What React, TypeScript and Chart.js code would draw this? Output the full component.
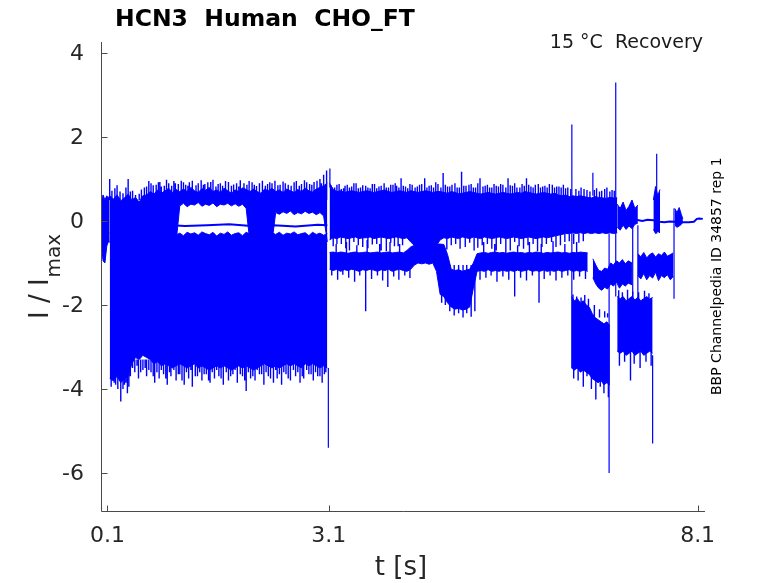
import React, { useEffect, useRef } from "react";
import { Chart, registerables } from "chart.js";

Chart.register(...registerables);

// ---------- text ----------
const TITLE = "HCN3  Human  CHO_FT";
const CONDITION = "15 °C  Recovery";
const SOURCE = "BBP Channelpedia ID 34857 rep 1";
const X_LABEL = "t [s]";
const Y_LABEL_MAIN = "I / I";
const Y_LABEL_SUB = "max";

// ---------- axes ----------
const X_MIN = 0.012;
const X_MAX = 8.2;
const Y_MIN = -6.93;
const Y_MAX = 4.262;
const xTicks = [0.1, 3.1, 8.1];
const xTickLabels = ["0.1", "3.1", "8.1"];
const yTicks = [-6, -4, -2, 0, 2, 4];
const yTickLabels = ["-6", "-4", "-2", "0", "2", "4"];

// ---------- trace: start segment ----------
const preT = [0.015, 0.04, 0.065, 0.09, 0.11, 0.13];
const preHi = [0.45, 0.62, 0.5, 0.6, 0.55, 0.6];
const preLo = [-0.55, -0.95, -1.0, -0.6, -0.5, -0.5];

// ---------- region 1 envelopes (sampled every 0.05 s from 0.13 s) ----------
const r1Start = 0.13;
const r1Step = 0.05;
const r1UpperHi = [
  0.6, 0.52, 0.62, 0.48, 0.55, 0.64, 0.5, 0.56, 0.45, 0.6,
  0.62, 0.7, 0.64, 0.74, 0.66, 0.72, 0.78, 0.68, 0.75, 0.7,
  0.76, 0.7, 0.8, 0.72, 0.68, 0.77, 0.73, 0.8, 0.7, 0.74,
  0.68, 0.78, 0.72, 0.66, 0.74, 0.7, 0.79, 0.75, 0.7, 0.76,
  0.7, 0.66, 0.76, 0.72, 0.78, 0.7, 0.74, 0.68, 0.76, 0.72,
  0.68, 0.75, 0.7, 0.78, 0.72, 0.69, 0.76, 0.8, 0.84, 0.9,
];
const r1UpperLo = [
  -0.5, -0.5, -0.5, -0.5, -0.5, -0.5, -0.5, -0.5, -0.5, -0.5,
  -0.5, -0.5, -0.5, -0.5, -0.5, -0.5, -0.5, -0.5, -0.5, 0.36,
  0.42, 0.34, 0.4, 0.38, 0.44, 0.35, 0.4, 0.37, 0.43, 0.34,
  0.4, 0.38, 0.42, 0.36, 0.41, 0.35, 0.4, 0.3, -0.5, -0.5,
  -0.5, -0.5, -0.5, -0.5, -0.5, 0.2, 0.16, 0.22, 0.18, 0.24,
  0.15, 0.2, 0.17, 0.23, 0.18, 0.21, 0.15, 0.2, 0.12, -0.5,
];
const r1LowerHi = [
  -0.28, -0.33, -0.26, -0.31, -0.36, -0.27, -0.32, -0.29, -0.35, -0.26,
  -0.3, -0.34, -0.27, -0.32, -0.28, -0.36, -0.3, -0.26, -0.33, -0.29,
  -0.35, -0.27, -0.31, -0.28, -0.34, -0.26, -0.3, -0.33, -0.27, -0.36,
  -0.29, -0.32, -0.26, -0.34, -0.3, -0.28, -0.35, -0.27, -0.31, -0.29,
  -0.33, -0.26, -0.3, -0.35, -0.28, -0.32, -0.27, -0.34, -0.29, -0.31,
  -0.26, -0.33, -0.3, -0.28, -0.35, -0.27, -0.32, -0.29, -0.34, -0.3,
];
const r1LowerLo = [
  -3.75, -3.8, -3.7, -3.85, -3.75, -3.7, -3.4, -3.25, -3.3, -3.2,
  -3.25, -3.3, -3.4, -3.35, -3.45, -3.4, -3.45, -3.5, -3.45, -3.4,
  -3.45, -3.5, -3.45, -3.4, -3.5, -3.45, -3.5, -3.55, -3.5, -3.45,
  -3.5, -3.45, -3.5, -3.55, -3.5, -3.45, -3.5, -3.45, -3.5, -3.55,
  -3.5, -3.45, -3.4, -3.45, -3.5, -3.45, -3.5, -3.45, -3.4, -3.45,
  -3.4, -3.45, -3.5, -3.4, -3.45, -3.4, -3.45, -3.5, -3.45, -3.5,
];
const r1LevelT = [0.25, 0.55, 0.85, 1.15, 1.45, 1.75, 2.05, 2.35, 2.65, 2.95, 3.08];
const r1LevelV = [-0.1, -0.13, -0.09, -0.12, -0.1, -0.08, -0.12, -0.1, -0.13, -0.09, -0.1];

// ---------- region 2 envelopes (sampled every 0.05 s from 3.11 s) ----------
const r2Start = 3.11;
const r2Step = 0.05;
const r2UpperHi = [
  0.9, 0.75, 0.7, 0.72, 0.68, 0.7, 0.72, 0.7, 0.68, 0.7,
  0.72, 0.7, 0.68, 0.7, 0.72, 0.74, 0.7, 0.68, 0.7, 0.72,
  0.7, 0.68, 0.72, 0.7, 0.68, 0.7, 0.72, 0.7, 0.68, 0.7,
  0.7, 0.68, 0.66, 0.7, 0.68, 0.65, 0.66, 0.68, 0.7, 0.68,
  0.66, 0.64, 0.66, 0.68, 0.66, 0.64, 0.66, 0.68, 0.66, 0.64,
  0.66, 0.68, 0.66, 0.7, 0.68, 0.66, 0.64, 0.66, 0.68, 0.66,
  0.64, 0.66, 0.62, 0.6, 0.62, 0.58, 0.6, 0.58, 0.6, 0.58,
  0.56, 0.55, 0.58, 0.56, 0.55, 0.54, 0.56, 0.55, 0.55,
];
const r2UpperLo = [
  -0.45, -0.4, -0.42, -0.38, -0.4, -0.42, -0.4, -0.38, -0.42, -0.4,
  -0.4, -0.38, -0.42, -0.4, -0.38, -0.4, -0.42, -0.4, -0.38, -0.4,
  -0.42, -0.4, -0.5, -0.58, -0.6, -0.62, -0.6, -0.62, -0.6, -0.58,
  -0.45, -0.4, -0.42, -0.38, -0.4, -0.42, -0.38, -0.4, -0.42, -0.38,
  -0.4, -0.42, -0.38, -0.4, -0.42, -0.4, -0.38, -0.4, -0.42, -0.4,
  -0.38, -0.4, -0.42, -0.4, -0.38, -0.4, -0.42, -0.4, -0.38, -0.4,
  -0.38, -0.36, -0.34, -0.32, -0.3, -0.3, -0.28, -0.3, -0.28, -0.3,
  -0.28, -0.3, -0.28, -0.3, -0.28, -0.3, -0.28, -0.3, -0.28,
];
const r2MidHi = [
  -0.75, -0.74, -0.76, -0.74, -0.75, -0.77, -0.75, -0.74, -0.76, -0.75,
  -0.74, -0.76, -0.75, -0.74, -0.76, -0.75, -0.74, -0.76, -0.75, -0.74,
  -0.76, -0.7, -0.62, -0.58, -0.56, -0.55, -0.56, -0.55, -0.56, -0.55,
  -0.55, -0.56, -0.8, -1.15, -1.18, -1.16, -1.2, -1.17, -1.15, -1.0,
  -0.78, -0.76, -0.75, -0.77, -0.75, -0.74, -0.76, -0.75, -0.77, -0.75,
  -0.74, -0.76, -0.75, -0.77, -0.75, -0.76, -0.74, -0.75, -0.77, -0.75,
  -0.76, -0.75, -0.74, -0.76, -0.75, -0.77, -0.75, -0.76, -0.74, -0.75,
  -0.76,
];
const r2MidLo = [
  -1.15, -1.18, -1.15, -1.2, -1.16, -1.18, -1.15, -1.17, -1.2, -1.16,
  -1.18, -1.15, -1.17, -1.2, -1.16, -1.18, -1.15, -1.2, -1.17, -1.15,
  -1.18, -1.2, -1.15, -1.05, -1.0, -1.02, -1.0, -1.03, -1.0, -1.2,
  -1.75, -1.8, -1.95, -2.05, -2.1, -2.08, -2.12, -2.1, -2.05, -1.6,
  -1.2, -1.18, -1.2, -1.16, -1.2, -1.18, -1.2, -1.17, -1.2, -1.18,
  -1.2, -1.17, -1.2, -1.18, -1.16, -1.2, -1.18, -1.2, -1.17, -1.2,
  -1.18, -1.2, -1.17, -1.2, -1.18, -1.16, -1.2, -1.18, -1.2, -1.17,
  -1.2,
];

// ---------- region 3 envelopes ----------
const midAT = [6.68, 6.72, 6.76, 6.8, 6.84, 6.88, 6.92, 6.96, 7.0, 7.04, 7.08, 7.12, 7.16, 7.21];
const midAHi = [-0.9, -1.05, -1.18, -1.2, -1.12, -1.15, -1.0, -1.05, -0.95, -1.0, -0.92, -1.02, -0.95, -1.0];
const midALo = [-1.35, -1.5, -1.6, -1.65, -1.58, -1.62, -1.5, -1.55, -1.45, -1.6, -1.5, -1.55, -1.48, -1.52];

const midBT = [7.29, 7.33, 7.37, 7.41, 7.45, 7.49, 7.53, 7.57, 7.61, 7.65, 7.69, 7.73, 7.77];
const midBHi = [-0.78, -0.85, -0.75, -0.88, -0.8, -0.76, -0.86, -0.78, -0.82, -0.74, -0.84, -0.8, -0.76];
const midBLo = [-1.3, -1.38, -1.25, -1.4, -1.3, -1.36, -1.22, -1.42, -1.3, -1.35, -1.28, -1.4, -1.32];

const lowAT = [6.39, 6.43, 6.47, 6.51, 6.55, 6.59, 6.63, 6.67, 6.71, 6.75, 6.79, 6.83, 6.87, 6.91];
const lowAHi = [-1.8, -1.9, -1.85, -1.95, -1.9, -2.0, -2.05, -2.2, -2.3, -2.35, -2.4, -2.45, -2.4, -2.5];
const lowALo = [-3.5, -3.55, -3.5, -3.6, -3.55, -3.6, -3.65, -3.75, -3.8, -3.85, -3.8, -3.9, -3.85, -3.9];

const lowBT = [7.01, 7.05, 7.09, 7.13, 7.17, 7.21, 7.25, 7.29, 7.33, 7.37, 7.41, 7.45, 7.49];
const lowBHi = [-1.8, -1.85, -1.8, -1.9, -1.85, -1.8, -1.88, -1.82, -1.9, -1.85, -1.8, -1.86, -1.82];
const lowBLo = [-3.1, -3.15, -3.1, -3.2, -3.15, -3.1, -3.2, -3.15, -3.1, -3.2, -3.15, -3.1, -3.15];

const upAT = [7.01, 7.05, 7.09, 7.13, 7.17, 7.21, 7.25, 7.29];
const upAHi = [0.4, 0.3, 0.45, 0.25, 0.35, 0.5, 0.3, 0.38];
const upALo = [-0.15, -0.22, -0.1, -0.2, -0.12, -0.18, -0.08, -0.05];

const upBT = [7.5, 7.53, 7.56, 7.59];
const upBHi = [0.5, 0.82, 0.6, 0.75];
const upBLo = [-0.2, -0.3, -0.25, -0.28];

const upCT = [7.79, 7.82, 7.85, 7.88, 7.9];
const upCHi = [0.3, 0.2, 0.32, 0.15, 0.05];
const upCLo = [-0.1, -0.15, -0.12, -0.08, -0.03];

const tailT = [7.27, 7.35, 7.42, 7.5, 7.59, 7.65, 7.72, 7.79, 7.9, 7.98, 8.05, 8.09, 8.12, 8.17];
const tailV = [0.03, 0.0, 0.03, 0.02, -0.02, -0.03, -0.01, -0.02, -0.03, -0.03, -0.02, 0.05, 0.06, 0.05];

// ---------- noise needles at the band edges (time, tip value; drawn from a base level) ----------
const r1TopBase = 0.5;
const r1TopT = [
  0.13, 0.2, 0.27, 0.38, 0.44, 0.53, 0.6, 0.66, 0.72, 0.79,
  0.83, 0.9, 0.97, 1.02, 1.1, 1.16, 1.21, 1.3, 1.37, 1.42,
  1.5, 1.57, 1.63, 1.7, 1.78, 1.85, 1.9, 1.99, 2.06, 2.12,
  2.2, 2.27, 2.33, 2.41, 2.48, 2.55, 2.63, 2.7, 2.77, 2.84,
  2.9, 2.98, 3.03, 3.07,
  0.16, 0.23, 0.31, 0.35, 0.41, 0.48, 0.56, 0.63, 0.69, 0.76,
  0.81, 0.87, 0.93, 1.0, 1.06, 1.13, 1.19, 1.25, 1.33, 1.4,
  1.46, 1.53, 1.6, 1.66, 1.74, 1.81, 1.88, 1.95, 2.02, 2.09,
  2.16, 2.24, 2.3, 2.37, 2.44, 2.51, 2.59, 2.66, 2.73, 2.8,
  2.87, 2.94, 3.0,
];
const r1TopV = [
  1.0, 0.78, 0.7, 1.0, 0.72, 0.65, 0.8, 0.95, 0.85, 0.92,
  0.82, 0.98, 0.84, 0.9, 0.96, 0.86, 0.92, 0.85, 0.97, 0.88,
  0.93, 0.82, 0.9, 0.95, 0.84, 0.9, 0.97, 0.86, 0.92, 0.83,
  0.96, 0.88, 0.9, 0.85, 0.94, 0.86, 0.92, 0.84, 0.97, 0.88,
  0.93, 1.0, 1.1, 1.2,
  0.72, 0.85, 0.66, 0.8, 0.7, 0.62, 0.75, 0.82, 0.9, 0.86,
  0.93, 0.84, 0.9, 0.95, 0.88, 0.92, 0.84, 0.96, 0.9, 0.86,
  0.92, 0.98, 0.88, 0.84, 0.93, 0.87, 0.82, 0.9, 0.95, 0.86,
  0.9, 0.84, 0.92, 0.96, 0.86, 0.9, 0.84, 0.95, 0.88, 0.92,
  0.86, 0.96, 0.9,
];
const r1BottomBase = -3.3;
const r1BottomT = [
  0.15, 0.19, 0.24, 0.28, 0.33, 0.37, 0.41, 0.47, 0.52, 0.58,
  0.63, 0.69, 0.74, 0.8, 0.86, 0.91, 0.96, 1.03, 1.08, 1.14,
  1.2, 1.25, 1.32, 1.38, 1.44, 1.49, 1.55, 1.61, 1.67, 1.74,
  1.8, 1.86, 1.93, 1.98, 2.04, 2.1, 2.16, 2.22, 2.28, 2.35,
  2.4, 2.46, 2.52, 2.58, 2.65, 2.71, 2.76, 2.83, 2.89, 2.95,
  3.01, 3.06,
  0.17, 0.21, 0.26, 0.31, 0.35, 0.39, 0.44, 0.5, 0.55, 0.61,
  0.66, 0.72, 0.77, 0.83, 0.89, 0.94, 1.0, 1.06, 1.11, 1.17,
  1.23, 1.29, 1.35, 1.41, 1.47, 1.52, 1.58, 1.64, 1.71, 1.77,
  1.83, 1.9, 1.96, 2.01, 2.07, 2.13, 2.19, 2.25, 2.31, 2.38,
  2.43, 2.49, 2.55, 2.62, 2.68, 2.74, 2.8, 2.86, 2.92, 2.98,
  3.04,
];
const r1BottomV = [
  -3.95, -3.85, -4.0, -4.3, -3.9, -4.1, -3.7, -3.6, -3.75, -3.55,
  -3.7, -3.6, -3.85, -3.75, -3.65, -3.9, -3.7, -3.8, -3.65, -3.9,
  -3.75, -3.95, -3.7, -3.8, -3.65, -3.85, -3.75, -3.7, -3.9, -3.8,
  -3.65, -3.85, -3.7, -4.05, -3.75, -3.8, -3.65, -3.9, -3.7, -3.85,
  -3.75, -3.9, -3.65, -3.8, -3.7, -3.85, -3.75, -3.65, -3.8, -3.7,
  -3.85, -3.6,
  -3.8, -3.9, -3.75, -4.0, -3.85, -3.95, -3.5, -3.45, -3.6, -3.5,
  -3.55, -3.7, -3.6, -3.55, -3.75, -3.6, -3.55, -3.65, -3.8, -3.6,
  -3.55, -3.7, -3.6, -3.65, -3.8, -3.6, -3.55, -3.75, -3.6, -3.7,
  -3.55, -3.65, -3.8, -3.6, -3.7, -3.55, -3.65, -3.6, -3.75, -3.55,
  -3.65, -3.6, -3.75, -3.55, -3.6, -3.7, -3.55, -3.65, -3.6, -3.7,
  -3.65,
];
const r2TopBase = 0.55;
const r2TopT = [
  3.13, 3.18, 3.24, 3.3, 3.35, 3.41, 3.47, 3.53, 3.6, 3.66,
  3.72, 3.78, 3.85, 3.91, 3.97, 4.02, 4.08, 4.14, 4.2, 4.27,
  4.33, 4.4, 4.46, 4.52, 4.58, 4.65, 4.71, 4.77, 4.84, 4.9,
  4.96, 5.03, 5.09, 5.15, 5.22, 5.28, 5.34, 5.4, 5.46, 5.53,
  5.59, 5.65, 5.72, 5.78, 5.84, 5.9, 5.97, 6.03, 6.09, 6.16,
  6.22, 6.28, 6.34, 6.45, 6.52, 6.6, 6.73, 6.8, 6.87, 6.94,
  3.15, 3.21, 3.27, 3.32, 3.38, 3.44, 3.5, 3.56, 3.63, 3.69,
  3.75, 3.81, 3.88, 3.94, 4.0, 4.05, 4.11, 4.17, 4.23, 4.3,
  4.36, 4.43, 4.49, 4.55, 4.62, 4.68, 4.74, 4.81, 4.87, 4.93,
  5.0, 5.06, 5.12, 5.19, 5.25, 5.31, 5.37, 5.43, 5.5, 5.56,
  5.62, 5.69, 5.75, 5.81, 5.87, 5.94, 6.0, 6.06, 6.13, 6.19,
  6.25, 6.31, 6.38, 6.49, 6.56, 6.64, 6.7, 6.77, 6.84, 6.91,
  6.97,
];
const r2TopV = [
  0.85, 0.8, 0.88, 0.78, 0.86, 0.82, 0.9, 0.8, 0.84, 0.78,
  0.88, 0.82, 0.9, 0.8, 0.86, 0.84, 1.02, 0.82, 0.88, 0.8,
  0.86, 1.02, 0.84, 0.8, 0.88, 1.14, 0.82, 0.86, 0.8, 1.17,
  0.84, 0.88, 0.8, 1.02, 0.84, 0.8, 0.88, 0.82, 0.86, 1.02,
  0.84, 0.8, 0.88, 1.02, 0.82, 0.86, 0.8, 0.84, 0.88, 0.8,
  0.82, 0.86, 0.8, 0.76, 0.8, 0.74, 0.78, 0.72, 0.8, 0.74,
  0.8, 0.86, 0.76, 0.84, 0.8, 0.9, 0.78, 0.85, 0.8, 0.88,
  0.78, 0.84, 0.8, 0.86, 0.9, 0.8, 0.84, 0.78, 0.86, 0.82,
  0.88, 0.8, 0.85, 0.92, 0.8, 0.86, 0.82, 0.9, 0.8, 0.84,
  0.86, 0.8, 0.9, 0.82, 0.86, 0.8, 0.84, 0.88, 0.8, 0.85,
  0.9, 0.8, 0.84, 0.86, 0.8, 0.88, 0.82, 0.8, 0.86, 0.82,
  0.8, 0.78, 0.76, 0.72, 0.76, 0.7, 0.74, 0.7, 0.76, 0.7,
  0.72,
];
const r2UpperBottomBase = -0.3;
const r2UpperBottomT = [
  3.16, 3.27, 3.38, 3.5, 3.63, 3.75, 3.88, 3.99, 4.1, 4.7,
  4.82, 4.95, 5.07, 5.18, 5.31, 5.43, 5.56, 5.68, 5.8, 5.93,
  6.05, 6.18, 6.3, 6.42, 6.55,
  3.21, 3.33, 3.44, 3.56, 3.69, 3.81, 3.94, 4.04, 4.76, 4.88,
  5.01, 5.12, 5.25, 5.37, 5.5, 5.62, 5.74, 5.87, 5.99, 6.12,
  6.24, 6.36, 6.49,
];
const r2UpperBottomV = [
  -0.6, -0.55, -0.7, -0.58, -0.65, -0.55, -0.72, -0.6, -0.58, -0.68,
  -0.55, -0.62, -0.7, -0.58, -0.66, -0.55, -0.7, -0.6, -0.58, -0.72,
  -0.55, -0.62, -0.5, -0.55, -0.48,
  -0.55, -0.65, -0.5, -0.62, -0.56, -0.7, -0.52, -0.6, -0.58, -0.66,
  -0.52, -0.64, -0.55, -0.7, -0.58, -0.5, -0.66, -0.55, -0.62, -0.5,
  -0.58, -0.48, -0.52,
];
const r2MidTopBase = -0.8;
const r2MidTopT = [3.2, 3.34, 3.48, 3.62, 3.79, 3.93, 4.06, 5.2, 5.35, 5.5, 5.66, 5.82, 5.98, 6.14, 6.3, 6.46];
const r2MidTopV = [-0.55, -0.5, -0.58, -0.45, -0.55, -0.5, -0.55, -0.5, -0.55, -0.45, -0.58, -0.5, -0.55, -0.48, -0.55, -0.5];
const r2MidBottomBase = -1.05;
const r2MidBottomT = [
  3.14, 3.22, 3.29, 3.37, 3.45, 3.52, 3.6, 3.68, 3.76, 3.83,
  3.9, 3.98, 4.05, 4.13, 4.2,
  4.63, 4.68, 4.74, 4.8, 4.86, 4.92, 4.97, 5.03, 5.08, 5.15,
  5.23, 5.3, 5.38, 5.46, 5.54, 5.62, 5.7, 5.78, 5.86, 5.95,
  6.02, 6.1, 6.18, 6.26, 6.34, 6.42, 6.5, 6.58,
];
const r2MidBottomV = [
  -1.3, -1.4, -1.28, -1.35, -1.45, -1.3, -2.15, -1.38, -1.3, -1.42,
  -1.57, -1.32, -1.4, -1.3, -1.36,
  -1.95, -2.0, -2.15, -2.25, -2.2, -2.3, -2.2, -2.28, -2.15, -1.4,
  -1.35, -1.3, -1.45, -1.32, -1.4, -1.8, -1.35, -1.42, -1.3, -1.95,
  -1.38, -1.3, -1.42, -1.35, -1.3, -1.4, -1.32, -1.38,
];
const lowATopBase = -2.3;
const lowATopT = [6.41, 6.46, 6.52, 6.57, 6.62, 6.7, 6.77, 6.84, 6.88];
const lowATopV = [-1.75, -1.8, -1.82, -1.76, -1.85, -2.0, -2.1, -2.15, -2.2];
const lowABottomBase = -3.5;
const lowABottomT = [6.42, 6.48, 6.55, 6.6, 6.66, 6.72, 6.78, 6.83, 6.89];
const lowABottomV = [-3.75, -3.8, -3.95, -3.7, -4.0, -4.25, -3.95, -4.1, -4.2];
const lowBTopBase = -2.0;
const lowBTopT = [7.03, 7.08, 7.15, 7.22, 7.3, 7.38, 7.44];
const lowBTopV = [-1.65, -1.7, -1.64, -1.68, -1.7, -1.66, -1.72];
const lowBBottomBase = -3.0;
const lowBBottomT = [7.04, 7.11, 7.19, 7.24, 7.32, 7.4, 7.47];
const lowBBottomV = [-3.45, -3.35, -3.8, -3.4, -3.5, -3.35, -3.45];

// ---------- isolated transients (time, from, to) ----------
const spikeT = [3.094, 3.115, 6.395, 6.68, 6.9, 6.99, 7.22, 7.29, 7.49, 7.545, 7.78];
const spikeFrom = [-3.5, 0.8, -3.5, 0.6, -0.3, -1.8, 0.35, -0.1, -3.2, -0.3, 0.3];
const spikeTo = [-5.4, 1.25, 2.3, 1.15, -6.0, 3.3, -1.95, -1.9, -5.3, 1.6, -1.85];

// ---------- helpers ----------
const BLUE = "#0000ff";
const FONT = "'DejaVu Sans', 'Liberation Sans', sans-serif";

function gridTimes(start: number, step: number, n: number): number[] {
  return Array.from({ length: n }, (_, i) => Math.round((start + i * step) * 1000) / 1000);
}
function pts(ts: number[], vs: number[]) {
  return ts.map((t, i) => ({ x: t, y: vs[i] }));
}
function band(ts: number[], hi: number[], lo: number[]) {
  return [
    { data: pts(ts, hi), borderColor: BLUE, borderWidth: 1, fill: false, pointRadius: 0 },
    { data: pts(ts, lo), borderColor: BLUE, borderWidth: 1, backgroundColor: BLUE, fill: "-1", pointRadius: 0 },
  ];
}
function segments(ts: number[], from: (i: number) => number, to: number[]) {
  const out: { x: number; y: number | null }[] = [];
  ts.forEach((t, i) => {
    out.push({ x: t, y: from(i) }, { x: t, y: to[i] }, { x: t, y: null });
  });
  return out;
}

function buildDatasets() {
  const r1T = gridTimes(r1Start, r1Step, r1UpperHi.length);
  const r2T = gridTimes(r2Start, r2Step, r2UpperHi.length);
  const r2MT = gridTimes(r2Start, r2Step, r2MidHi.length);
  const needleGroups: [number, number[], number[]][] = [
    [r1TopBase, r1TopT, r1TopV],
    [r1BottomBase, r1BottomT, r1BottomV],
    [r2TopBase, r2TopT, r2TopV],
    [r2UpperBottomBase, r2UpperBottomT, r2UpperBottomV],
    [r2MidTopBase, r2MidTopT, r2MidTopV],
    [r2MidBottomBase, r2MidBottomT, r2MidBottomV],
    [lowATopBase, lowATopT, lowATopV],
    [lowABottomBase, lowABottomT, lowABottomV],
    [lowBTopBase, lowBTopT, lowBTopV],
    [lowBBottomBase, lowBBottomT, lowBBottomV],
  ];
  const needles = needleGroups.flatMap(([base, ts, vs]) => segments(ts, () => base, vs));
  const spikes = segments(spikeT, (i) => spikeFrom[i], spikeTo);
  return [
    ...band(preT, preHi, preLo),
    ...band(r1T, r1UpperHi, r1UpperLo),
    ...band(r1T, r1LowerHi, r1LowerLo),
    { data: pts(r1LevelT, r1LevelV), borderColor: BLUE, borderWidth: 2, fill: false, pointRadius: 0 },
    ...band(r2T, r2UpperHi, r2UpperLo),
    ...band(r2MT, r2MidHi, r2MidLo),
    ...band(midAT, midAHi, midALo),
    ...band(midBT, midBHi, midBLo),
    ...band(lowAT, lowAHi, lowALo),
    ...band(lowBT, lowBHi, lowBLo),
    ...band(upAT, upAHi, upALo),
    ...band(upBT, upBHi, upBLo),
    ...band(upCT, upCHi, upCLo),
    { data: pts(tailT, tailV), borderColor: BLUE, borderWidth: 2, fill: false, pointRadius: 0 },
    { data: needles, borderColor: BLUE, borderWidth: 1.4, fill: false, pointRadius: 0, spanGaps: false },
    { data: spikes, borderColor: BLUE, borderWidth: 1.2, fill: false, pointRadius: 0, spanGaps: false },
  ];
}

const axesPlugin = {
  id: "matlabAxes",
  afterDraw(chart: any) {
    const { ctx, chartArea, scales } = chart;
    const xs = scales.x;
    const ys = scales.y;
    const ax = Math.round(chartArea.left) + 0.5;
    const ay = Math.round(chartArea.bottom) - 0.5;
    ctx.save();
    ctx.strokeStyle = "#4a4a4a";
    ctx.lineWidth = 1;
    ctx.beginPath();
    ctx.moveTo(ax, chartArea.top);
    ctx.lineTo(ax, ay);
    ctx.lineTo(chartArea.right, ay);
    yTicks.forEach((v) => {
      const py = Math.round(ys.getPixelForValue(v)) + 0.5;
      ctx.moveTo(ax, py);
      ctx.lineTo(ax + 6, py);
    });
    xTicks.forEach((v) => {
      const px = Math.round(xs.getPixelForValue(v)) + 0.5;
      ctx.moveTo(px, ay);
      ctx.lineTo(px, ay - 6);
    });
    ctx.stroke();

    ctx.fillStyle = "#262626";
    ctx.font = `22px ${FONT}`;
    ctx.textAlign = "right";
    ctx.textBaseline = "middle";
    yTicks.forEach((v, i) => ctx.fillText(yTickLabels[i], 84, ys.getPixelForValue(v) + 1));
    ctx.textAlign = "center";
    ctx.textBaseline = "alphabetic";
    xTicks.forEach((v, i) => ctx.fillText(xTickLabels[i], xs.getPixelForValue(v), 542));

    ctx.font = `26px ${FONT}`;
    ctx.fillText(X_LABEL, 401, 575);

    ctx.save();
    ctx.translate(48, 319);
    ctx.rotate(-Math.PI / 2);
    ctx.textAlign = "left";
    ctx.font = `26px ${FONT}`;
    ctx.fillText(Y_LABEL_MAIN, 0, 0);
    const w = ctx.measureText(Y_LABEL_MAIN).width;
    ctx.font = `20px ${FONT}`;
    ctx.fillText(Y_LABEL_SUB, w + 1, 12);
    ctx.restore();

    ctx.fillStyle = "#000000";
    ctx.font = `bold 23.5px ${FONT}`;
    ctx.textAlign = "left";
    ctx.fillText(TITLE, 115, 26);

    ctx.fillStyle = "#1a1a1a";
    ctx.font = `19px ${FONT}`;
    ctx.textAlign = "right";
    ctx.fillText(CONDITION, 703, 47.5);

    ctx.save();
    ctx.translate(721, 395);
    ctx.rotate(-Math.PI / 2);
    ctx.textAlign = "left";
    ctx.font = `14px ${FONT}`;
    ctx.fillStyle = "#000000";
    ctx.fillText(SOURCE, 0, 0);
    ctx.restore();

    ctx.restore();
  },
};

export default function App() {
  const ref = useRef<HTMLCanvasElement>(null);
  useEffect(() => {
    const canvas = ref.current;
    if (!canvas) return;
    const chart = new Chart(canvas, {
      type: "line",
      data: { datasets: buildDatasets() as any },
      options: {
        responsive: false,
        animation: false,
        events: [],
        layout: { padding: { left: 101, right: 73, top: 42, bottom: 71 } },
        elements: { line: { tension: 0 }, point: { radius: 0 } },
        plugins: { legend: { display: false }, tooltip: { enabled: false }, title: { display: false } },
        scales: {
          x: { type: "linear", min: X_MIN, max: X_MAX, display: false },
          y: { type: "linear", min: Y_MIN, max: Y_MAX, display: false },
        },
      },
      plugins: [axesPlugin],
    });
    return () => chart.destroy();
  }, []);
  return (
    <div style={{ position: "fixed", left: 0, top: 0, width: 778, height: 583, background: "#ffffff" }}>
      <canvas ref={ref} width={778} height={583} style={{ display: "block", width: 778, height: 583 }} />
    </div>
  );
}
